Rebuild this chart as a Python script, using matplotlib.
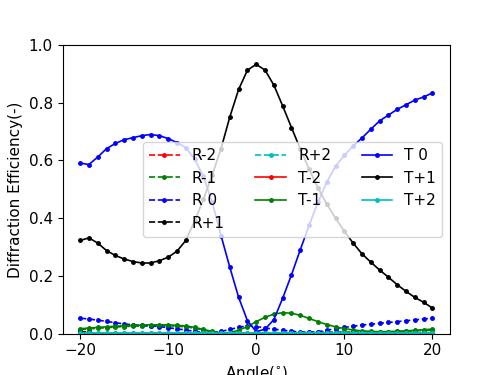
import matplotlib
matplotlib.use('Agg')
import matplotlib.pyplot as plt

plt.rcParams['font.size'] = 11

# 入射角 (度)
角度 = list(range(-20, 21))

# 反射各級效率
R_m2 = [0.0] * 41
R_m1 = [0.014, 0.017, 0.019, 0.021, 0.023, 0.025, 0.026, 0.027, 0.028, 0.028, 0.028,
        0.026, 0.024, 0.019, 0.013, 0.007, 0.003, 0.002, 0.002, 0.002, 0.002,
        0.002, 0.002, 0.002, 0.003, 0.004, 0.005, 0.005, 0.006, 0.006, 0.006,
        0.006, 0.006, 0.006, 0.007, 0.007, 0.008, 0.009, 0.010, 0.011, 0.012]
R_0 = [0.054, 0.051, 0.047, 0.043, 0.038, 0.034, 0.031, 0.029, 0.027, 0.025, 0.021,
       0.017, 0.013, 0.008, 0.004, 0.003, 0.008, 0.015, 0.022, 0.028, 0.025,
       0.020, 0.016, 0.012, 0.009, 0.006, 0.005, 0.007, 0.012, 0.018, 0.022,
       0.026, 0.030, 0.033, 0.036, 0.039, 0.042, 0.045, 0.048, 0.051, 0.054]
R_p1 = [0.008, 0.005] + [0.0] * 39
R_p2 = [0.002] * 41

# 穿透各級效率
T_m2 = [0.0] * 41
T_m1 = [0.017, 0.020, 0.022, 0.024, 0.026, 0.028, 0.029, 0.030, 0.031, 0.031, 0.031,
        0.029, 0.027, 0.022, 0.015, 0.008, 0.003, 0.004, 0.012, 0.025, 0.042,
        0.057, 0.068, 0.073, 0.071, 0.064, 0.053, 0.042, 0.032, 0.024, 0.018,
        0.013, 0.010, 0.008, 0.007, 0.007, 0.008, 0.010, 0.012, 0.014, 0.016]
T_0 = [0.591, 0.586, 0.612, 0.641, 0.659, 0.672, 0.679, 0.686, 0.690, 0.686, 0.676,
       0.662, 0.645, 0.605, 0.545, 0.455, 0.340, 0.230, 0.126, 0.045, 0.007,
       0.016, 0.049, 0.123, 0.204, 0.291, 0.375, 0.455, 0.525, 0.580, 0.618,
       0.650, 0.678, 0.708, 0.737, 0.757, 0.777, 0.793, 0.809, 0.820, 0.834]
T_p1 = [0.323, 0.332, 0.314, 0.288, 0.271, 0.259, 0.250, 0.245, 0.245, 0.253, 0.265,
        0.286, 0.323, 0.390, 0.465, 0.550, 0.641, 0.751, 0.846, 0.913, 0.933,
        0.913, 0.861, 0.789, 0.714, 0.640, 0.570, 0.505, 0.450, 0.400, 0.355,
        0.314, 0.277, 0.248, 0.221, 0.196, 0.170, 0.147, 0.126, 0.109, 0.089]
T_p2 = [0.002] * 41

線寬 = 1.2
點大小 = 5

fig, ax = plt.subplots(figsize=(5, 3.75), dpi=100)
ax.plot(角度, R_m2, 'r.--', lw=線寬, ms=點大小, label='R-2')
ax.plot(角度, R_m1, 'g.--', lw=線寬, ms=點大小, label='R-1')
ax.plot(角度, R_0, 'b.--', lw=線寬, ms=點大小, label='R 0')
ax.plot(角度, R_p1, 'k.--', lw=線寬, ms=點大小, label='R+1')
ax.plot(角度, R_p2, 'c.--', lw=線寬, ms=點大小, label='R+2')
ax.plot(角度, T_m2, 'r.-', lw=線寬, ms=點大小, label='T-2')
ax.plot(角度, T_m1, 'g.-', lw=線寬, ms=點大小, label='T-1')
ax.plot(角度, T_0, 'b.-', lw=線寬, ms=點大小, label='T 0')
ax.plot(角度, T_p1, 'k.-', lw=線寬, ms=點大小, label='T+1')
ax.plot(角度, T_p2, 'c.-', lw=線寬, ms=點大小, label='T+2')
ax.set_ylim(0, 1)
ax.set_xlabel('Angle($^{\\circ}$)')
ax.set_ylabel('Diffraction Efficiency(-)')
ax.legend(ncol=3, loc='center right')
fig.savefig('out.png')
